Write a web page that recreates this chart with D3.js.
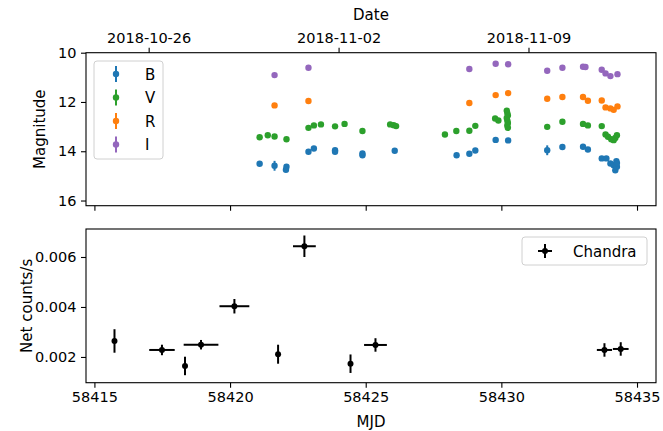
<!DOCTYPE html>
<html>
<head>
<meta charset="utf-8">
<script src="https://cdn.jsdelivr.net/npm/d3@7"></script>
<style>
  body { margin: 0; background: #fff; }
  text { font-family: "DejaVu Sans", sans-serif; }
</style>
</head>
<body>
<script>
// photometry (MJD, magnitude, error) per band
const bMjd = [58421.09, 58421.64, 58422.08, 58422.06, 58422.89, 58423.09, 58423.87, 58423.87, 58424.88, 58424.88, 58426.07, 58428.35, 58428.82, 58429.04, 58429.79, 58430.25, 58431.69, 58432.25, 58433.01, 58433.19, 58433.70, 58433.87, 58434.02, 58434.14, 58434.20, 58434.24, 58434.26, 58434.26];
const bMag = [14.51, 14.59, 14.63, 14.75, 14.02, 13.89, 13.96, 14.02, 14.09, 14.16, 13.98, 14.16, 14.10, 13.97, 13.54, 13.56, 13.96, 13.83, 13.82, 13.93, 14.29, 14.29, 14.50, 14.57, 14.77, 14.40, 14.63, 14.48];
const bErr = [0.04, 0.20, 0.05, 0.05, 0.04, 0.04, 0.04, 0.04, 0.05, 0.05, 0.04, 0.04, 0.04, 0.04, 0.04, 0.04, 0.20, 0.04, 0.04, 0.04, 0.04, 0.04, 0.05, 0.05, 0.05, 0.05, 0.05, 0.05];

const vMjd = [58421.09, 58421.39, 58421.64, 58422.08, 58422.89, 58423.09, 58423.35, 58423.87, 58424.22, 58424.88, 58425.90, 58426.03, 58426.12, 58427.92, 58428.34, 58428.82, 58429.04, 58429.77, 58429.89, 58430.20, 58430.22, 58430.24, 58430.20, 58430.22, 58430.24, 58430.22, 58430.24, 58431.69, 58432.25, 58433.01, 58433.19, 58433.70, 58433.84, 58433.93, 58434.05, 58434.14, 58434.20, 58434.26];
const vMag = [13.43, 13.35, 13.40, 13.51, 13.05, 12.95, 12.91, 12.99, 12.89, 13.18, 12.91, 12.94, 12.98, 13.32, 13.18, 13.17, 12.97, 12.67, 12.75, 12.35, 12.45, 12.55, 12.65, 12.75, 12.85, 12.95, 13.05, 13.01, 12.80, 12.89, 12.95, 12.98, 13.32, 13.41, 13.51, 13.55, 13.46, 13.35];
const vErr = vMag.map(() => 0.03);

const rMjd = [58421.64, 58422.89, 58428.82, 58429.79, 58430.25, 58431.69, 58432.25, 58433.01, 58433.19, 58433.70, 58433.84, 58434.02, 58434.14, 58434.28];
const rMag = [12.14, 11.96, 12.04, 11.72, 11.64, 11.87, 11.80, 11.80, 11.95, 11.94, 12.22, 12.26, 12.32, 12.18];
const rErr = rMag.map(() => 0.03);

const iMjd = [58421.64, 58422.89, 58428.82, 58429.79, 58430.25, 58431.69, 58432.25, 58433.01, 58433.10, 58433.70, 58433.84, 58434.02, 58434.28];
const iMag = [10.91, 10.61, 10.66, 10.45, 10.47, 10.73, 10.61, 10.57, 10.58, 10.69, 10.84, 10.95, 10.87];
const iErr = [0.03, 0.03, 0.10, 0.03, 0.03, 0.10, 0.03, 0.03, 0.03, 0.03, 0.03, 0.03, 0.03];

const bandNames = ["B", "V", "R", "I"];
const bandColors = ["#1f77b4", "#2ca02c", "#ff7f0e", "#9467bd"];

// Chandra net count rates
const chMjd = [58415.74, 58417.49, 58418.34, 58418.93, 58420.16, 58421.77, 58422.74, 58424.44, 58425.36, 58433.80, 58434.40];
const chMjdErr = [0.0, 0.47, 0.0, 0.64, 0.55, 0.0, 0.42, 0.0, 0.42, 0.28, 0.29];
const chRate = [0.00264, 0.00228, 0.00164, 0.00249, 0.00403, 0.00211, 0.00643, 0.00173, 0.00248, 0.00228, 0.00232];
const chRateErr = [0.00047, 0.00021, 0.00037, 0.00019, 0.00029, 0.00038, 0.00043, 0.00037, 0.00027, 0.00027, 0.00027];

// ticks
const mjdTicks = [58415, 58420, 58425, 58430, 58435];
const dateTickMjd = [58417, 58424, 58431];
const dateTickLabels = ["2018-10-26", "2018-11-02", "2018-11-09"];
const magTicks = [10, 12, 14, 16];
const rateTicks = [0.002, 0.004, 0.006];

// layout
const W = 663, H = 431;
const left = 86, right = 656;
const top1 = 52.7, bot1 = 205.7;
const top2 = 229, bot2 = 382.7;
const fs = "15px";      // labels, legend
const tfs = "14.5px";   // tick labels

const svg = d3.select("body").append("svg")
  .attr("width", W)
  .attr("height", H);

const x = d3.scaleLinear().domain([58414.69, 58435.70]).range([left, right]);
const y1 = d3.scaleLinear().domain([16.21, 10]).range([bot1, top1]);
const y2 = d3.scaleLinear().domain([0.00097, 0.00712]).range([bot2, top2]);

function styleAxis(g) {
  g.select(".domain").remove();
  g.selectAll(".tick line").attr("stroke", "#000").attr("stroke-width", 1.1);
  g.selectAll(".tick text").attr("fill", "#000").style("font-size", tfs)
    .style("font-family", "DejaVu Sans");
}

// ---- top panel ----
svg.append("g")
  .attr("transform", "translate(0," + bot1 + ")")
  .call(d3.axisBottom(x).tickValues(mjdTicks).tickSize(5).tickFormat(""))
  .call(styleAxis);

svg.append("g")
  .attr("transform", "translate(0," + top1 + ")")
  .call(d3.axisTop(x).tickValues(dateTickMjd).tickSize(5).tickPadding(4.5)
    .tickFormat((d, i) => dateTickLabels[i]))
  .call(styleAxis);

svg.append("g")
  .attr("transform", "translate(" + left + ",0)")
  .call(d3.axisLeft(y1).tickValues(magTicks).tickSize(5).tickPadding(4.5).tickFormat(d3.format("d")))
  .call(styleAxis);

const bands = [
  { mjd: bMjd, mag: bMag, err: bErr },
  { mjd: vMjd, mag: vMag, err: vErr },
  { mjd: rMjd, mag: rMag, err: rErr },
  { mjd: iMjd, mag: iMag, err: iErr }
];

bands.forEach((b, k) => {
  const pts = b.mjd.map((m, i) => ({ mjd: m, mag: b.mag[i], err: b.err[i] }));
  const g = svg.append("g");
  g.selectAll("line")
    .data(pts)
    .enter()
    .append("line")
    .attr("x1", d => x(d.mjd))
    .attr("x2", d => x(d.mjd))
    .attr("y1", d => y1(d.mag - d.err))
    .attr("y2", d => y1(d.mag + d.err))
    .attr("stroke", bandColors[k])
    .attr("stroke-width", 2);
  g.selectAll("circle")
    .data(pts)
    .enter()
    .append("circle")
    .attr("cx", d => x(d.mjd))
    .attr("cy", d => y1(d.mag))
    .attr("r", 3.2)
    .style("fill", bandColors[k]);
});

svg.append("rect")
  .attr("x", left).attr("y", top1)
  .attr("width", right - left).attr("height", bot1 - top1)
  .attr("fill", "none").attr("stroke", "#000").attr("stroke-width", 1.1);

// legend (top)
const leg1 = svg.append("g").attr("transform", "translate(94,61)");
leg1.append("rect")
  .attr("width", 69).attr("height", 98).attr("rx", 3)
  .attr("fill", "#fff").attr("fill-opacity", 0.8)
  .attr("stroke", "#d0d0d0");
bandNames.forEach((name, k) => {
  const cy = 13 + k * 23.5;
  leg1.append("line")
    .attr("x1", 22).attr("x2", 22).attr("y1", cy - 8).attr("y2", cy + 8)
    .attr("stroke", bandColors[k]).attr("stroke-width", 2);
  leg1.append("circle").attr("cx", 22).attr("cy", cy).attr("r", 3.2).style("fill", bandColors[k]);
  leg1.append("text").text(name)
    .attr("x", 51).attr("y", cy + 5.5)
    .style("font-size", fs).style("fill", "#000");
});

// axis titles (top)
svg.append("text")
  .text("Date")
  .attr("text-anchor", "middle")
  .attr("x", (left + right) / 2)
  .attr("y", 20)
  .style("font-size", fs);

svg.append("text")
  .text("Magnitude")
  .attr("text-anchor", "middle")
  .attr("transform", "translate(45," + (top1 + bot1) / 2 + ") rotate(-90)")
  .style("font-size", fs);

// ---- bottom panel ----
svg.append("g")
  .attr("transform", "translate(0," + bot2 + ")")
  .call(d3.axisBottom(x).tickValues(mjdTicks).tickSize(5).tickPadding(4).tickFormat(d3.format("d")))
  .call(styleAxis);

svg.append("g")
  .attr("transform", "translate(" + left + ",0)")
  .call(d3.axisLeft(y2).tickValues(rateTicks).tickSize(5).tickPadding(4.5).tickFormat(d3.format(".3f")))
  .call(styleAxis);

const chPts = chMjd.map((m, i) => ({ mjd: m, xe: chMjdErr[i], rate: chRate[i], ye: chRateErr[i] }));
const g2 = svg.append("g");
g2.selectAll(".xerr")
  .data(chPts)
  .enter()
  .append("line")
  .attr("class", "xerr")
  .attr("x1", d => x(d.mjd - d.xe))
  .attr("x2", d => x(d.mjd + d.xe))
  .attr("y1", d => y2(d.rate))
  .attr("y2", d => y2(d.rate))
  .attr("stroke", "#000")
  .attr("stroke-width", 2);
g2.selectAll(".yerr")
  .data(chPts)
  .enter()
  .append("line")
  .attr("class", "yerr")
  .attr("x1", d => x(d.mjd))
  .attr("x2", d => x(d.mjd))
  .attr("y1", d => y2(d.rate - d.ye))
  .attr("y2", d => y2(d.rate + d.ye))
  .attr("stroke", "#000")
  .attr("stroke-width", 2);
g2.selectAll("circle")
  .data(chPts)
  .enter()
  .append("circle")
  .attr("cx", d => x(d.mjd))
  .attr("cy", d => y2(d.rate))
  .attr("r", 3)
  .style("fill", "#000");

svg.append("rect")
  .attr("x", left).attr("y", top2)
  .attr("width", right - left).attr("height", bot2 - top2)
  .attr("fill", "none").attr("stroke", "#000").attr("stroke-width", 1.1);

// legend (bottom)
const leg2 = svg.append("g").attr("transform", "translate(522,237)");
leg2.append("rect")
  .attr("width", 125).attr("height", 28).attr("rx", 3)
  .attr("fill", "#fff").attr("fill-opacity", 0.8)
  .attr("stroke", "#d0d0d0");
leg2.append("line").attr("x1", 16).attr("x2", 30).attr("y1", 14).attr("y2", 14)
  .attr("stroke", "#000").attr("stroke-width", 2);
leg2.append("line").attr("x1", 23).attr("x2", 23).attr("y1", 7).attr("y2", 21)
  .attr("stroke", "#000").attr("stroke-width", 2);
leg2.append("circle").attr("cx", 23).attr("cy", 14).attr("r", 3).style("fill", "#000");
leg2.append("text").text("Chandra")
  .attr("x", 51).attr("y", 19.5)
  .style("font-size", fs).style("fill", "#000");

// axis titles (bottom)
svg.append("text")
  .text("MJD")
  .attr("text-anchor", "middle")
  .attr("x", (left + right) / 2)
  .attr("y", 427)
  .style("font-size", fs);

svg.append("text")
  .text("Net counts/s")
  .attr("text-anchor", "middle")
  .attr("transform", "translate(32," + (top2 + bot2) / 2 + ") rotate(-90)")
  .style("font-size", fs);
</script>
</body>
</html>
